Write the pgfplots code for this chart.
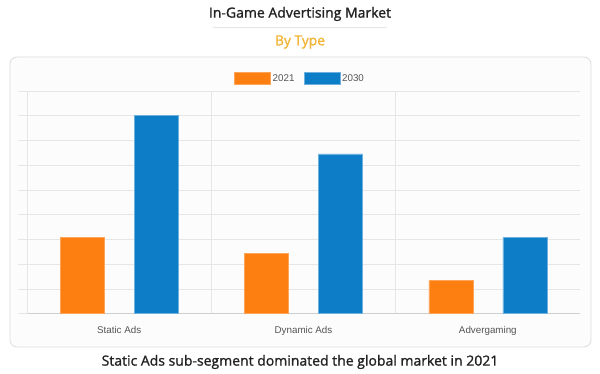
\documentclass[border=0pt]{standalone}
\usepackage{pgfplots}
\pgfplotsset{compat=1.18}
\usepackage{fontspec}
\setmainfont{Open Sans}
\newfontfamily\osemi[FakeBold=1.3]{Open Sans}
\newfontfamily\arialf{Liberation Sans}
\definecolor{orangebar}{HTML}{FD7F12}
\definecolor{bluebar}{HTML}{0E7DC8}
\definecolor{gridc}{HTML}{E6E6E6}
\definecolor{axisc}{HTML}{CFCFCF}
\definecolor{subt}{HTML}{F2B535}
\definecolor{boxfill}{HTML}{FCFCFC}
\definecolor{boxdraw}{HTML}{DDDDDD}
\definecolor{tickc}{HTML}{555555}
\definecolor{titlec}{HTML}{222222}
\begin{document}
\begin{tikzpicture}
\path[fill=white] (0pt,0pt) rectangle (600pt,374pt);
\node[font=\osemi\fontsize{14}{16}\selectfont, text=titlec] at (300pt,360pt) {In-Game Advertising Market};
\draw[gridc, line width=0.8pt] (212.6pt,347pt) -- (387pt,347pt);
\node[font=\osemi\fontsize{13.8}{16}\selectfont, text=subt] at (300pt,332pt) {By Type};
\draw[boxdraw, fill=boxfill, rounded corners=7pt, line width=0.8pt] (10pt,27pt) rectangle (591pt,317pt);
\begin{axis}[
  at={(27pt,60.3pt)}, anchor=south west,
  width=553pt, height=222.7pt, scale only axis,
  xmin=0, xmax=3, ymin=0, ymax=9,
  axis x line*=bottom, axis y line*=left,
  x axis line style={-, draw=axisc, line width=0.9pt},
  y axis line style={-, draw=gridc, line width=0.8pt},
  xtick={0.5,1.5,2.5},
  xticklabels={Static Ads, Dynamic Ads, Advergaming},
  xtick style={draw=none},
  minor xtick={0,1,2},
  xminorgrids=true,
  minor grid style={gridc, line width=0.8pt},
  minor x tick style={gridc, line width=0.8pt},
  minor tick length=6pt,
  ytick={0,1,...,9},
  yticklabels={},
  ymajorgrids=true,
  major grid style={gridc, line width=0.8pt},
  y tick style={gridc, line width=0.8pt},
  major tick length=9pt,
  tick align=outside,
  xticklabel style={font=\arialf\fontsize{9.8}{11}\selectfont, text=tickc},
  ybar,
  bar width=44pt,
  legend columns=2,
  legend style={at={(0.4937,1.055)}, anchor=center, draw=none, fill=none,
    font=\arialf\fontsize{9.8}{11}\selectfont, text=tickc,
    /tikz/every even column/.append style={column sep=7pt}},
  legend image code/.code={\fill[#1] (0pt,-6pt) rectangle (36pt,6pt);},
]
\addplot[fill=orangebar, draw=orangebar!70!white, line width=0.6pt, bar shift=-37pt] coordinates {(0.5,3.07) (1.5,2.43) (2.5,1.33)};
\addplot[fill=bluebar, draw=bluebar!60!white, line width=0.6pt, bar shift=37pt] coordinates {(0.5,8.02) (1.5,6.46) (2.5,3.07)};
\legend{2021,2030}
\end{axis}
\node[font=\osemi\fontsize{14}{16}\selectfont, text=titlec] at (300pt,12pt) {Static Ads sub-segment dominated the global market in 2021};
\end{tikzpicture}
\end{document}
